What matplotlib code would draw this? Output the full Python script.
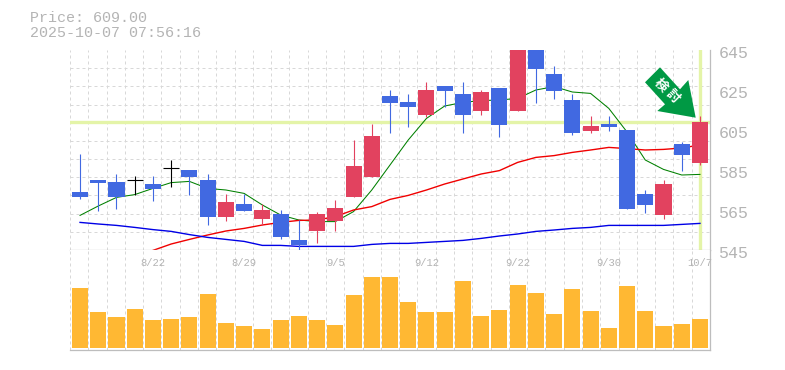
import matplotlib
matplotlib.use('Agg')
import matplotlib.pyplot as plt
from matplotlib.patches import Polygon
from matplotlib.transforms import Affine2D

# daily candles, 35 sessions
opens = [574, 580, 579, 579.8, 578, 586, 585, 580, 561.7, 568, 560.7, 563,
         550, 554.7, 559.7, 571.7, 581.7, 622, 619, 612.7, 627, 623, 614.7, 626,
         614.7, 648, 633, 620, 604.7, 608, 605, 573, 562.7, 598, 588.7]
closes = [571.7, 578.5, 571.7, 579.8, 575.7, 586, 581.7, 561.7, 569, 564.7, 565, 551.7,
          547.7, 563, 566, 587, 602, 618.7, 616.7, 625, 624.7, 612.7, 624, 607.7,
          652, 635.7, 624.7, 603.7, 607, 606.7, 565.7, 567.7, 578, 592.7, 609]
highs = [593, 580, 583, 582, 582, 590, 585, 583, 573, 573, 568, 565,
         560, 564, 570, 600, 608, 625, 623, 629, 627, 629, 625, 626,
         652, 650, 637, 623, 612, 612, 605, 575, 580, 599, 612]
lows = [570.7, 564.7, 565.7, 572.7, 569.7, 576.7, 572.7, 557.7, 559.7, 564.7, 557.7, 550.7,
        544.7, 548.7, 554.7, 571.7, 581.7, 603.7, 606.7, 611.7, 616.7, 603.7, 612.7, 601.7,
        614.7, 618.7, 620.7, 602.7, 603.7, 604.7, 565.7, 563.7, 560.7, 584.7, 587.7]

ma5 = [562.3, 567, 571.3, 572.7, 575.8, 578.7, 579.3, 575.8, 575, 573.3, 567.5, 562.5,
       560, 559.2, 559.2, 564.2, 575, 587.5, 600, 610.8, 617, 618.8, 619.7, 620,
       620.8, 625, 626.7, 624, 623.3, 615.8, 604, 590, 585.3, 582.5, 582.8]
ma25_x = list(range(4, 35))
ma25 = [544.8, 548, 550.3, 552.5, 554.5, 555.8, 557.5, 558.8, 559.8, 560, 561.7, 565,
        566.7, 570.3, 572.3, 575, 578, 580.5, 583, 584.7, 588.8, 591.3, 592.2, 593.8,
        595, 596.3, 595.7, 595, 595.3, 596, 597.5]
ma75 = [558.8, 558, 557.3, 556.3, 555.2, 554.3, 552.7, 551.3, 550.3, 549.3, 547.3, 547.3,
        546.8, 546.8, 546.8, 546.8, 547.8, 548.3, 548.3, 548.8, 549.3, 549.8, 550.8, 552,
        553, 554.3, 555, 555.8, 556.3, 557.3, 557.3, 557.3, 557.3, 557.8, 558.3]

volume = [60, 36, 31, 39, 28, 29, 31, 54, 25, 22, 19, 28, 32, 28, 23, 53, 71, 71,
          46, 36, 36, 67, 32, 38, 63, 55, 34, 59, 37, 20, 62, 37, 22, 24, 29]

price_ticks = [545, 565, 585, 605, 625, 645]
date_idx = [4, 9, 14, 19, 24, 29, 34]
date_labels = ['8/22', '8/29', '9/5', '9/12', '9/22', '9/30', '10/7']

last_price = 609
title1 = 'Price: 609.00'
title2 = '2025-10-07 07:56:16'
badge = '検討'

W, H = 785, 370
BLUE = '#4169E1'
RED = '#E2425F'
GRID = '#D8D8D8'
AXIS = '#BDBDBD'
TXT = '#B4B4B4'
LIME = '#E4F4A8'
MONO = 'Liberation Mono'

plt.rcParams['font.family'] = ['Noto Sans CJK JP', 'DejaVu Sans']

fig = plt.figure(figsize=(W / 100, H / 100), dpi=100, facecolor='white')
ax = fig.add_axes([70 / W, (H - 250) / H, 640 / W, 200 / H])
vol = fig.add_axes([70 / W, (H - 350) / H, 640 / W, 100 / H])

x_min, x_max = -0.55, 34.55
for a in (ax, vol):
    a.set_xlim(x_min, x_max)
    a.set_xticks([])
    a.set_yticks([])
    for s in ('top', 'left'):
        a.spines[s].set_visible(False)
    for s in ('bottom', 'right'):
        a.spines[s].set_color(AXIS)
        a.spines[s].set_linewidth(0.9)
    a.set_axisbelow(True)
    # dashed grid: 35 columns across, not tied to the candles
    for k in range(0, 35):
        a.axvline(x_min + (x_max - x_min) * k / 35, color=GRID, lw=0.72,
                  dashes=(3, 3), zorder=0)

ax.set_ylim(545, 645)
for k in range(0, 11):
    ax.axhline(545 + 100 * k / 11, color=GRID, lw=0.72, dashes=(3, 3), zorder=0)

# current price cross
ax.axhline(last_price, color=LIME, lw=2.4, zorder=1)
ax.axvline(34, ymin=0.01, ymax=1, color=LIME, lw=2.4, zorder=1)

xs = list(range(35))
ax.plot(xs, ma5, color='#008000', lw=0.75, zorder=2)
ax.plot(ma25_x, ma25, color='#F00000', lw=1.0, zorder=2)
ax.plot(xs, ma75, color='#0000E6', lw=1.0, zorder=2)

for i in xs:
    o, c = opens[i], closes[i]
    if o == c:
        col = 'black'
    elif c > o:
        col = RED
    else:
        col = BLUE
    ax.vlines(i, lows[i], highs[i], color=col, lw=0.8, zorder=3)
    if o == c:
        ax.hlines(o, i - 0.44, i + 0.44, color=col, lw=0.8, zorder=3)
    else:
        ax.bar(i, abs(c - o), bottom=min(o, c), width=0.88, color=col, zorder=3)

vol.set_ylim(-2, 98)
vol.bar(xs, volume, width=0.88, color='#FFB833', zorder=2)

for p in price_ticks:
    ax.annotate(str(p), (1, p), xycoords=('axes fraction', 'data'), xytext=(6, -2.2),
                textcoords='offset points', va='center', ha='left', fontsize=12,
                family=MONO, color=TXT, annotation_clip=False)

for i, lab in zip(date_idx, date_labels):
    vol.annotate(lab, (i, 1), xycoords=('data', 'axes fraction'), xytext=(0, -9),
                 textcoords='offset points', va='center', ha='center', fontsize=7.6,
                 family=MONO, color=TXT, annotation_clip=False)

fig.text(30 / W, 1 - 18 / H, title1, fontsize=10.85, family=MONO, color=TXT, va='center')
fig.text(30 / W, 1 - 33 / H, title2, fontsize=10.85, family=MONO, color=TXT, va='center')

# green arrow badge, drawn in figure pixels from the top left
px = Affine2D().scale(1, -1).translate(0, H)
arrow = [(660, 67.3), (645, 82.3), (665, 104.3), (657.3, 111), (695.7, 117.7), (688.3, 80), (680, 89.3)]
fig.add_artist(Polygon(arrow, closed=True, facecolor='#009944', edgecolor='none', transform=px, zorder=5))
fig.text(661 / W, 1 - 85 / H, badge[0], rotation=-45, fontsize=9.5, fontweight='bold', color='white',
         ha='center', va='center', zorder=6)
fig.text(672.7 / W, 1 - 96 / H, badge[1], rotation=-45, fontsize=9.5, fontweight='bold', color='white',
         ha='center', va='center', zorder=6)

fig.savefig('out.png', dpi=100)
